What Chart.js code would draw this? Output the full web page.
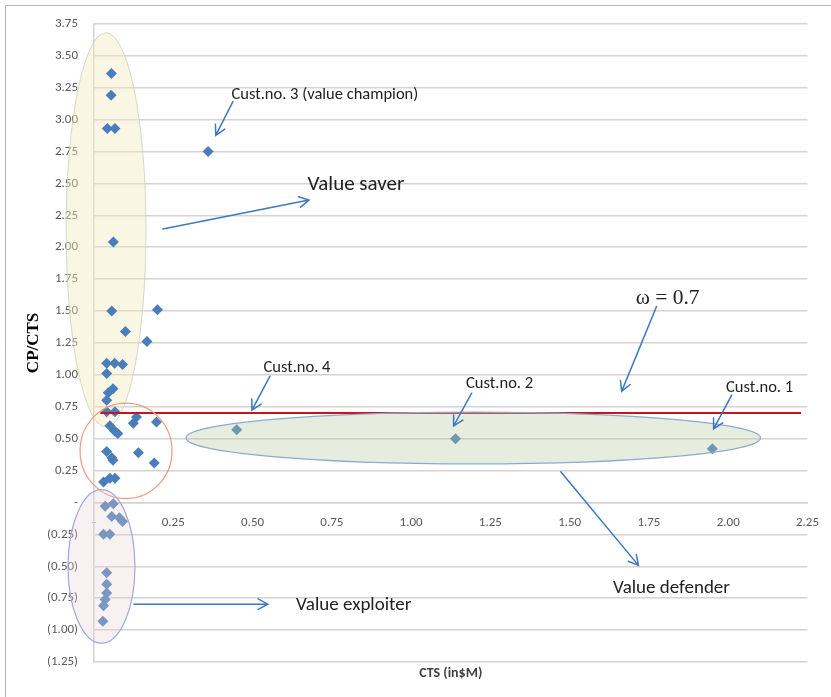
<!DOCTYPE html>
<html>
<head>
<meta charset="utf-8">
<script src="https://cdn.jsdelivr.net/npm/chart.js@4/dist/chart.umd.min.js"></script>
<style>
  html, body { margin: 0; padding: 0; background: #ffffff; }
  #wrap { width: 831px; height: 697px; position: relative; }
</style>
</head>
<body>
<div id="wrap"><canvas id="chart" width="831" height="697"></canvas></div>
<script>
// Customers: cost-to-serve (in $M) and contribution-profit / cost-to-serve ratio
const cts = [
  0.055, 0.054, 0.042, 0.066, 0.36,
  0.061, 0.056, 0.20, 0.099, 0.167,
  0.04, 0.065, 0.09, 0.04,
  0.045, 0.06, 0.04, 0.04, 0.066,
  0.134, 0.124, 0.197, 0.05, 0.065, 0.075,
  0.04, 0.056, 0.06, 0.14, 0.19,
  0.03, 0.05, 0.066,
  0.035, 0.061, 0.056, 0.08, 0.09, 0.03, 0.05,
  0.04, 0.04, 0.04, 0.035, 0.03, 0.028,
  0.45, 1.14, 1.95
];
const cpcts = [
  3.36, 3.19, 2.93, 2.93, 2.75,
  2.04, 1.50, 1.51, 1.34, 1.26,
  1.09, 1.09, 1.08, 1.01,
  0.86, 0.89, 0.80, 0.71, 0.71,
  0.67, 0.62, 0.63, 0.60, 0.56, 0.54,
  0.40, 0.35, 0.33, 0.39, 0.31,
  0.16, 0.19, 0.19,
  -0.03, -0.01, -0.11, -0.12, -0.15, -0.25, -0.25,
  -0.55, -0.64, -0.71, -0.76, -0.81, -0.93,
  0.57, 0.50, 0.42
];

// Threshold omega = 0.7
const omegaX = [0.02, 2.23];
const omegaY = [0.7, 0.7];

// Axis ticks (accounting-style labels)
const xTickValues = [0, 0.25, 0.5, 0.75, 1, 1.25, 1.5, 1.75, 2, 2.25];
const xTickLabels = ['-', '0.25', '0.50', '0.75', '1.00', '1.25', '1.50', '1.75', '2.00', '2.25'];
const yTickValues = [-1.25, -1, -0.75, -0.5, -0.25, 0, 0.25, 0.5, 0.75, 1, 1.25, 1.5, 1.75, 2, 2.25, 2.5, 2.75, 3, 3.25, 3.5, 3.75];
const yTickLabels = ['(1.25)', '(1.00)', '(0.75)', '(0.50)', '(0.25)', '-', '0.25', '0.50', '0.75', '1.00', '1.25', '1.50', '1.75', '2.00', '2.25', '2.50', '2.75', '3.00', '3.25', '3.50', '3.75'];

const SANS = 'Carlito, Lato, "Liberation Sans", sans-serif';
const SERIF = '"Liberation Serif", "DejaVu Serif", serif';
const GRID = '#d6d2d2';
const ARROW = '#3b79c0';

const key = v => Math.round(v * 100);
const xLabelMap = new Map(xTickValues.map((v, i) => [key(v), xTickLabels[i]]));
const yLabelMap = new Map(yTickValues.map((v, i) => [key(v), yTickLabels[i]]));

// Segment groupings, arrows and captions, in data coordinates
const ellipses = [
  { name: 'saver',     layer: 'under', cx: 0.038, cy: 2.135, rx: 0.126, ry: 1.545, fill: 'rgba(240,234,190,0.42)', stroke: 'rgba(205,205,190,0.8)', lw: 1 },
  { name: 'circle',    layer: 'over',  cx: 0.101, cy: 0.404, rx: 0.145, ry: 0.374, fill: null, stroke: '#ee9a7c', lw: 1.2 },
  { name: 'exploiter', layer: 'over',  cx: 0.0236, cy: -0.501, rx: 0.1056, ry: 0.601, fill: 'rgba(232,208,210,0.3)', stroke: '#9fa9d8', lw: 1.2 },
  { name: 'defender',  layer: 'over',  cx: 1.196, cy: 0.505, rx: 0.906, ry: 0.203, fill: 'rgba(184,201,161,0.35)', stroke: '#8ea8d2', lw: 1.2 }
];
const arrows = [
  { from: [0.438, 3.14],  to: [0.384, 2.876] },
  { from: [0.217, 2.143], to: [0.678, 2.369] },
  { from: [1.774, 1.535], to: [1.664, 0.87] },
  { from: [1.191, 0.856], to: [1.134, 0.599] },
  { from: [2.011, 0.841], to: [1.954, 0.576] },
  { from: [0.555, 0.989], to: [0.498, 0.724] },
  { from: [1.472, 0.24],  to: [1.717, -0.493] },
  { from: [0.126, -0.797], to: [0.548, -0.797] }
];
const captions = [
  { text: 'Cust.no. 3 (value champion)', x: 0.728, y: 3.196, font: '16.5px ' + SANS },
  { text: 'Value saver',     x: 0.826, y: 2.486, font: '21px ' + SANS },
  { text: 'ω = 0.7',         x: 1.809, y: 1.597, font: '21.5px ' + SERIF },
  { text: 'Cust.no. 4',      x: 0.64,  y: 1.051, font: '16.5px ' + SANS },
  { text: 'Cust.no. 2',      x: 1.279, y: 0.926, font: '16.5px ' + SANS },
  { text: 'Cust.no. 1',      x: 2.099, y: 0.895, font: '16.5px ' + SANS },
  { text: 'Value defender',  x: 1.821, y: -0.673, font: '19px ' + SANS },
  { text: 'Value exploiter', x: 0.819, y: -0.806, font: '19px ' + SANS }
];

function drawEllipses(chart, layer) {
  const { ctx, scales: { x, y } } = chart;
  ellipses.filter(e => e.layer === layer).forEach(e => {
    const cx = x.getPixelForValue(e.cx), cy = y.getPixelForValue(e.cy);
    const rx = Math.abs(x.getPixelForValue(e.cx + e.rx) - cx);
    const ry = Math.abs(y.getPixelForValue(e.cy + e.ry) - cy);
    ctx.save();
    ctx.beginPath();
    ctx.ellipse(cx, cy, rx, ry, 0, 0, Math.PI * 2);
    if (e.fill) { ctx.fillStyle = e.fill; ctx.fill(); }
    ctx.strokeStyle = e.stroke; ctx.lineWidth = e.lw; ctx.stroke();
    ctx.restore();
  });
}

const decorations = {
  id: 'decorations',
  beforeDraw(chart) {
    const ctx = chart.ctx;
    ctx.save();
    ctx.fillStyle = '#ffffff';
    ctx.fillRect(0, 0, chart.width, chart.height);
    ctx.strokeStyle = '#b4b4b4';
    ctx.lineWidth = 1;
    ctx.beginPath();
    ctx.moveTo(5.5, chart.height); ctx.lineTo(5.5, 5.5); ctx.lineTo(chart.width, 5.5);
    ctx.stroke();
    ctx.restore();
  },
  beforeDatasetsDraw(chart) { drawEllipses(chart, 'under'); },
  afterDatasetsDraw(chart) {
    const { ctx, chartArea, scales: { x, y } } = chart;
    drawEllipses(chart, 'over');
    ctx.save();
    ctx.strokeStyle = ARROW;
    ctx.lineWidth = 1.5;
    ctx.lineCap = 'round';
    arrows.forEach(a => {
      const x1 = x.getPixelForValue(a.from[0]), y1 = y.getPixelForValue(a.from[1]);
      const x2 = x.getPixelForValue(a.to[0]), y2 = y.getPixelForValue(a.to[1]);
      const ang = Math.atan2(y2 - y1, x2 - x1);
      const len = 11, spread = 0.5;
      ctx.beginPath();
      ctx.moveTo(x1, y1); ctx.lineTo(x2, y2);
      ctx.moveTo(x2 - len * Math.cos(ang - spread), y2 - len * Math.sin(ang - spread));
      ctx.lineTo(x2, y2);
      ctx.lineTo(x2 - len * Math.cos(ang + spread), y2 - len * Math.sin(ang + spread));
      ctx.stroke();
    });
    ctx.textAlign = 'center';
    ctx.textBaseline = 'middle';
    ctx.fillStyle = '#222222';
    captions.forEach(c => {
      ctx.font = c.font;
      ctx.fillText(c.text, x.getPixelForValue(c.x), y.getPixelForValue(c.y));
    });
    // horizontal axis title under the plot
    ctx.font = 'bold 14px ' + SANS;
    ctx.fillStyle = '#404040';
    ctx.fillText('CTS (in$M)', (chartArea.left + chartArea.right) / 2, chartArea.bottom + 11);
    ctx.restore();
  }
};

new Chart(document.getElementById('chart'), {
  data: {
    datasets: [
      {
        type: 'line',
        label: 'ω',
        data: omegaX.map((v, i) => ({ x: v, y: omegaY[i] })),
        borderColor: '#c4161c',
        borderWidth: 2,
        pointRadius: 0,
        fill: false,
        order: 0
      },
      {
        type: 'scatter',
        label: 'CP/CTS',
        data: cts.map((v, i) => ({ x: v, y: cpcts[i] })),
        pointStyle: 'rectRot',
        pointRadius: 5.5,
        pointHoverRadius: 5.5,
        backgroundColor: '#4a7ebb',
        borderColor: '#4a7ebb',
        borderWidth: 0,
        order: 1
      }
    ]
  },
  options: {
    responsive: false,
    animation: false,
    devicePixelRatio: 1,
    layout: { padding: { top: 21, right: 23, bottom: 35, left: 0 } },
    plugins: { legend: { display: false }, tooltip: { enabled: false } },
    events: [],
    scales: {
      x: {
        type: 'linear',
        position: { y: 0 },
        min: 0, max: 2.25,
        afterBuildTicks: s => { s.ticks = xTickValues.map(v => ({ value: v })); },
        ticks: {
          callback: v => xLabelMap.get(key(v)) ?? '',
          font: { family: SANS, size: 13 },
          color: '#595959',
          padding: 12,
          maxRotation: 0,
          autoSkip: false
        },
        grid: { display: false, drawTicks: false },
        border: { display: true, color: GRID, width: 1.5 }
      },
      y: {
        type: 'linear',
        position: 'left',
        min: -1.25, max: 3.75,
        afterBuildTicks: s => { s.ticks = yTickValues.map(v => ({ value: v })); },
        afterFit: s => { s.width = 94; },
        ticks: {
          callback: v => yLabelMap.get(key(v)) ?? '',
          font: { family: SANS, size: 13 },
          color: '#595959',
          padding: 16,
          autoSkip: false
        },
        grid: { color: GRID, lineWidth: 1.5, drawTicks: false },
        border: { display: true, color: GRID, width: 1.5 },
        title: {
          display: true,
          text: 'CP/CTS',
          font: { family: SERIF, size: 17, weight: 'bold' },
          color: '#000000',
          padding: { top: 23, bottom: 0 }
        }
      }
    }
  },
  plugins: [decorations]
});
</script>
</body>
</html>
